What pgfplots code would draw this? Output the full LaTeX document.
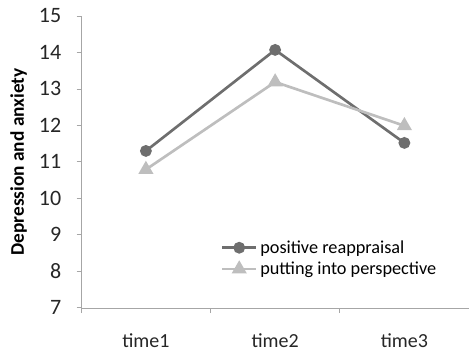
\documentclass[border=0pt]{standalone}
\usepackage{pgfplots}
\pgfplotsset{compat=1.18}
\usepackage{fontspec}
\setmainfont{Carlito}
\definecolor{darkser}{HTML}{6E6E6E}
\definecolor{lightser}{HTML}{BEBEBE}
\definecolor{axgray}{HTML}{A6A6A6}
\begin{document}
\begin{tikzpicture}
\begin{axis}[
  name=ax,
  scale only axis,
  width=291pt, height=219pt,
  xmin=-0.5, xmax=2.5,
  ymin=7, ymax=15,
  ytick={7,8,...,15},
  xtick={0,1,2},
  xticklabels={time1,time2,time3},
  minor xtick={-0.5,0.5,1.5,2.5},
  axis x line=bottom, axis y line=left,
  axis line style={axgray, -},
  major x tick style={draw=none},
  minor x tick style={axgray, line width=0.6pt},
  major y tick style={axgray, line width=0.6pt},
  tick align=outside,
  major tick length=3.5pt, minor tick length=4pt,
  tick label style={font=\fontsize{15}{17}\selectfont, text=black!85},
  xticklabel style={anchor=center, yshift=-21pt},
  yticklabel style={anchor=east, xshift=-8pt, font=\fontsize{16.5}{18}\selectfont},
  /pgf/number format/assume math mode=true,
  ylabel={\textbf{Depression and anxiety}},
  ylabel style={font=\fontsize{14.5}{16}\selectfont, at={(axis description cs:0,0.5)}, anchor=center, yshift=47pt},
  legend style={at={(0.36,0.24)}, anchor=north west, draw=none, fill=none,
    font=\fontsize{13.7}{15}\selectfont, row sep=1pt,
    inner sep=0pt, outer sep=0pt},
  legend cell align=left,
  legend image code/.code={\draw[mark repeat=2,mark phase=2] plot coordinates {(0cm,0cm) (0.45cm,0cm) (0.9cm,0cm)};},
  clip=false,
]
\addplot[darkser, line width=2pt, mark=*, mark size=3.4pt, mark options={fill=darkser, draw=darkser}]
  coordinates {(0,11.30) (1,14.07) (2,11.52)};
\addlegendentry{positive reappraisal}
\addplot[lightser, line width=2pt, mark=triangle*, mark size=4.6pt, mark options={fill=lightser, draw=lightser}]
  coordinates {(0,10.79) (1,13.19) (2,11.99)};
\addlegendentry{putting into perspective}
\end{axis}
\pgfresetboundingbox
\path ([xshift=-61pt,yshift=-34pt]ax.south west) rectangle ([yshift=12pt]ax.north east);
\end{tikzpicture}
\end{document}
